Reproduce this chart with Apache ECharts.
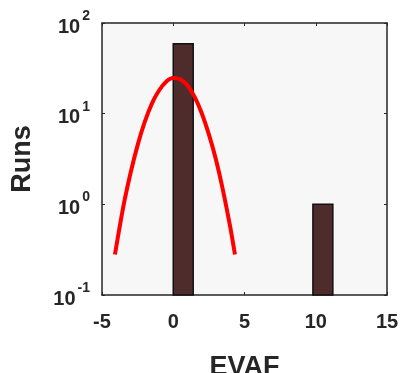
<!DOCTYPE html>
<html>
<head>
<meta charset="utf-8">
<script src="https://cdn.jsdelivr.net/npm/echarts@6/dist/echarts.min.js"></script>
<style>
  html, body { margin: 0; padding: 0; background: #ffffff; }
  #chart { width: 403px; height: 373px; }
</style>
</head>
<body>
<div id="chart"></div>
<script>
// Histogram of EVAF over runs (bin edges and counts)
var binStart = [0, 9.8];
var binEnd = [1.4, 11.2];
var binCount = [59, 1];

// Fitted normal curve, sampled points (EVAF, runs)
var fitX = [-4.09, -3.5, -3.0, -2.5, -2.0, -1.5, -1.0, -0.5, 0.0, 0.5, 1.0, 1.5, 2.0, 2.5, 3.0, 3.5, 4.0, 4.33];
var fitY = [0.28, 0.95, 2.2, 4.5, 8.1, 12.9, 18.0, 22.5, 24.7, 23.9, 20.4, 15.3, 10.1, 5.9, 3.1, 1.4, 0.56, 0.28];

// Axis ticks
var xTicks = [-5, 0, 5, 10, 15];
var yDecades = [-1, 0, 1, 2];

var FONT = 'Liberation Sans, Arial, sans-serif';
var TEXT = '#262626';

var bars = binStart.map(function (s, i) { return [s, binEnd[i], binCount[i]]; });
var curve = fitX.map(function (x, i) { return [x, fitY[i]]; });

var chart = echarts.init(document.getElementById('chart'));

var xBase = {
  type: 'value',
  min: xTicks[0],
  max: xTicks[xTicks.length - 1],
  interval: 5,
  splitLine: { show: false },
  axisLine: { show: true, onZero: false, lineStyle: { color: TEXT, width: 1.5 } },
  axisTick: { show: true, inside: true, length: 3, lineStyle: { color: TEXT, width: 1 } }
};
var yBase = {
  type: 'log',
  logBase: 10,
  min: Math.pow(10, yDecades[0]),
  max: Math.pow(10, yDecades[yDecades.length - 1]),
  splitLine: { show: false },
  minorTick: { show: false },
  axisLine: { show: true, onZero: false, lineStyle: { color: TEXT, width: 1.5 } },
  axisTick: { show: true, inside: true, length: 3, lineStyle: { color: TEXT, width: 1 } }
};

chart.setOption({
  animation: false,
  backgroundColor: '#ffffff',
  grid: {
    left: 102, top: 23, right: 16, bottom: 78,
    containLabel: false,
    outerBoundsMode: 'none',
    show: true, backgroundColor: '#f7f7f7', borderWidth: 0
  },
  xAxis: [
    Object.assign({}, xBase, {
      position: 'bottom',
      name: 'EVAF',
      nameLocation: 'middle',
      nameGap: 59,
      nameTextStyle: { fontFamily: FONT, fontWeight: 'bold', fontSize: 27, color: TEXT },
      axisLabel: {
        margin: 17,
        fontFamily: FONT, fontWeight: 'bold', fontSize: 20, color: TEXT
      }
    }),
    Object.assign({}, xBase, { position: 'top', axisLabel: { show: false } })
  ],
  yAxis: [
    Object.assign({}, yBase, {
      position: 'left',
      name: 'Runs',
      nameLocation: 'middle',
      nameGap: 66,
      nameTextStyle: { fontFamily: FONT, fontWeight: 'bold', fontSize: 27, color: TEXT },
      axisLabel: {
        margin: 12,
        formatter: function (v) {
          var e = Math.round(Math.log(v) / Math.LN10);
          return '{b|10}{s|' + e + '}';
        },
        rich: {
          b: { fontFamily: FONT, fontWeight: 'bold', fontSize: 20, color: TEXT, lineHeight: 28, verticalAlign: 'bottom' },
          s: { fontFamily: FONT, fontWeight: 'bold', fontSize: 14, color: TEXT, lineHeight: 28, verticalAlign: 'top', padding: [0, 0, 0, 2] }
        }
      }
    }),
    Object.assign({}, yBase, { position: 'right', axisLabel: { show: false } })
  ],
  series: [
    {
      type: 'custom',
      xAxisIndex: 0,
      yAxisIndex: 0,
      data: bars,
      encode: { x: [0, 1], y: 2 },
      renderItem: function (params, api) {
        var p0 = api.coord([api.value(0), yBase.min]);
        var p1 = api.coord([api.value(1), api.value(2)]);
        return {
          type: 'rect',
          shape: { x: p0[0], y: p1[1], width: p1[0] - p0[0], height: p0[1] - p1[1] },
          style: { fill: '#4e2c2c', stroke: '#111111', lineWidth: 1.5 }
        };
      },
      z: 2
    },
    {
      type: 'line',
      xAxisIndex: 0,
      yAxisIndex: 0,
      data: curve,
      smooth: 0.3,
      showSymbol: false,
      lineStyle: { color: '#ff0000', width: 4 },
      z: 3
    }
  ]
});
</script>
</body>
</html>
